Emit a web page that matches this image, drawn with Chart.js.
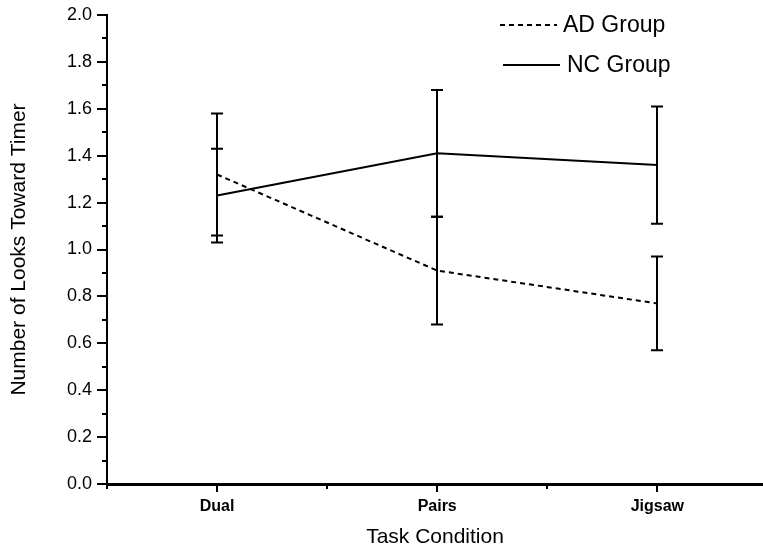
<!DOCTYPE html>
<html lang="en">

<head>
    <meta charset="UTF-8">
    <title>Looks Toward Timer</title>
    <script src="https://cdn.jsdelivr.net/npm/chart.js"></script>
    <style>
        body { margin: 0; background: #fff; }
        canvas { display: block; }
    </style>
</head>

<body>
    <canvas id="grafico" width="763" height="550"></canvas>

<script>
    // data
    const categorias = ['Dual', 'Pairs', 'Jigsaw'];
    const adMedia = [1.32, 0.91, 0.77];
    const adErro = [0.26, 0.23, 0.20];
    const ncMedia = [1.23, 1.41, 1.36];
    const ncErro = [0.20, 0.27, 0.25];

    const fonte = "'Liberation Sans', Arial, sans-serif";

    // tick marks (major + minor), drawn from the scales
    const marcas = {
        id: 'marcas',
        afterDraw(chart) {
            const ctx = chart.ctx;
            const area = chart.chartArea;
            const x = chart.scales.x, y = chart.scales.y;
            ctx.save();
            ctx.strokeStyle = '#000';
            ctx.lineWidth = 2;
            for (let i = 0; i <= 20; i++) {
                const py = Math.round(y.getPixelForValue(i / 10));
                const len = i % 2 == 0 ? 10 : 5;
                ctx.beginPath();
                ctx.moveTo(area.left - len, py);
                ctx.lineTo(area.left, py);
                ctx.stroke();
            }
            for (let i = 1; i <= 7; i++) {
                const px = Math.round(x.getPixelForValue(i / 2));
                const len = i % 2 == 0 ? 8 : 5;
                ctx.beginPath();
                ctx.moveTo(px, area.bottom);
                ctx.lineTo(px, area.bottom + len);
                ctx.stroke();
            }
            ctx.restore();
        }
    };

    // error bars
    const barrasErro = {
        id: 'barrasErro',
        afterDatasetsDraw(chart) {
            const ctx = chart.ctx;
            const x = chart.scales.x, y = chart.scales.y;
            const series = [[adMedia, adErro], [ncMedia, ncErro]];
            ctx.save();
            ctx.strokeStyle = '#000';
            ctx.lineWidth = 2;
            series.forEach(function (s) {
                s[0].forEach(function (m, j) {
                    const px = Math.round(x.getPixelForValue(j + 1));
                    const top = y.getPixelForValue(m + s[1][j]);
                    const bot = y.getPixelForValue(m - s[1][j]);
                    ctx.beginPath();
                    ctx.moveTo(px, top);
                    ctx.lineTo(px, bot);
                    ctx.moveTo(px - 6, top);
                    ctx.lineTo(px + 6, top);
                    ctx.moveTo(px - 6, bot);
                    ctx.lineTo(px + 6, bot);
                    ctx.stroke();
                });
            });
            ctx.restore();
        }
    };

    // legend in the top right corner
    const legenda = {
        id: 'legenda',
        afterDraw(chart) {
            const ctx = chart.ctx;
            const pos = [[500, 557, 563, 25], [503, 560, 567, 65]];
            ctx.save();
            ctx.font = '23px ' + fonte;
            ctx.textBaseline = 'middle';
            ctx.fillStyle = '#000';
            chart.data.datasets.forEach(function (ds, i) {
                const p = pos[i];
                ctx.strokeStyle = '#000';
                ctx.lineWidth = ds.borderWidth;
                ctx.setLineDash(ds.borderDash || []);
                ctx.beginPath();
                ctx.moveTo(p[0], p[3]);
                ctx.lineTo(p[1], p[3]);
                ctx.stroke();
                ctx.setLineDash([]);
                ctx.fillText(ds.label, p[2], p[3] + 1);
            });
            ctx.restore();
        }
    };

    new Chart(document.getElementById('grafico'), {
        type: 'line',
        data: {
            datasets: [{
                label: 'AD Group',
                data: adMedia.map(function (v, i) { return { x: i + 1, y: v }; }),
                borderColor: '#000',
                borderWidth: 2,
                borderDash: [5, 4],
                pointRadius: 0,
                tension: 0
            }, {
                label: 'NC Group',
                data: ncMedia.map(function (v, i) { return { x: i + 1, y: v }; }),
                borderColor: '#000',
                borderWidth: 2,
                pointRadius: 0,
                tension: 0
            }]
        },
        options: {
            responsive: false,
            devicePixelRatio: 1,
            animation: false,
            layout: { padding: { top: 15, right: 0, left: 0, bottom: 0 } },
            plugins: {
                legend: { display: false },
                tooltip: { enabled: false }
            },
            scales: {
                x: {
                    type: 'linear',
                    min: 0.5,
                    max: 3.48,
                    afterFit: function (s) {
                        s.height = 66;
                        s.paddingRight = 0;
                        s.paddingLeft = 0;
                    },
                    border: { color: '#000', width: 3 },
                    grid: { display: false, drawTicks: false },
                    ticks: {
                        stepSize: 0.5,
                        autoSkip: false,
                        maxRotation: 0,
                        padding: 13,
                        color: '#000',
                        font: { family: fonte, size: 16, weight: 'bold' },
                        callback: function (v) {
                            return Number.isInteger(v) ? categorias[v - 1] : '';
                        }
                    },
                    title: {
                        display: true,
                        text: 'Task Condition',
                        color: '#000',
                        padding: { top: 0, bottom: 0 },
                        font: { family: fonte, size: 21 }
                    }
                },
                y: {
                    min: 0,
                    max: 2,
                    afterFit: function (s) {
                        s.width = 107;
                        s.paddingTop = 0;
                        s.paddingBottom = 0;
                    },
                    border: { color: '#000', width: 2 },
                    grid: { display: false, drawTicks: false },
                    ticks: {
                        stepSize: 0.2,
                        padding: 15,
                        color: '#000',
                        font: { family: fonte, size: 18 },
                        callback: function (v) { return v.toFixed(1); }
                    },
                    title: {
                        display: true,
                        text: 'Number of Looks Toward Timer',
                        color: '#000',
                        padding: { top: 7, bottom: 0 },
                        font: { family: fonte, size: 21 }
                    }
                }
            }
        },
        plugins: [barrasErro, marcas, legenda]
    });
</script>
</body>

</html>
